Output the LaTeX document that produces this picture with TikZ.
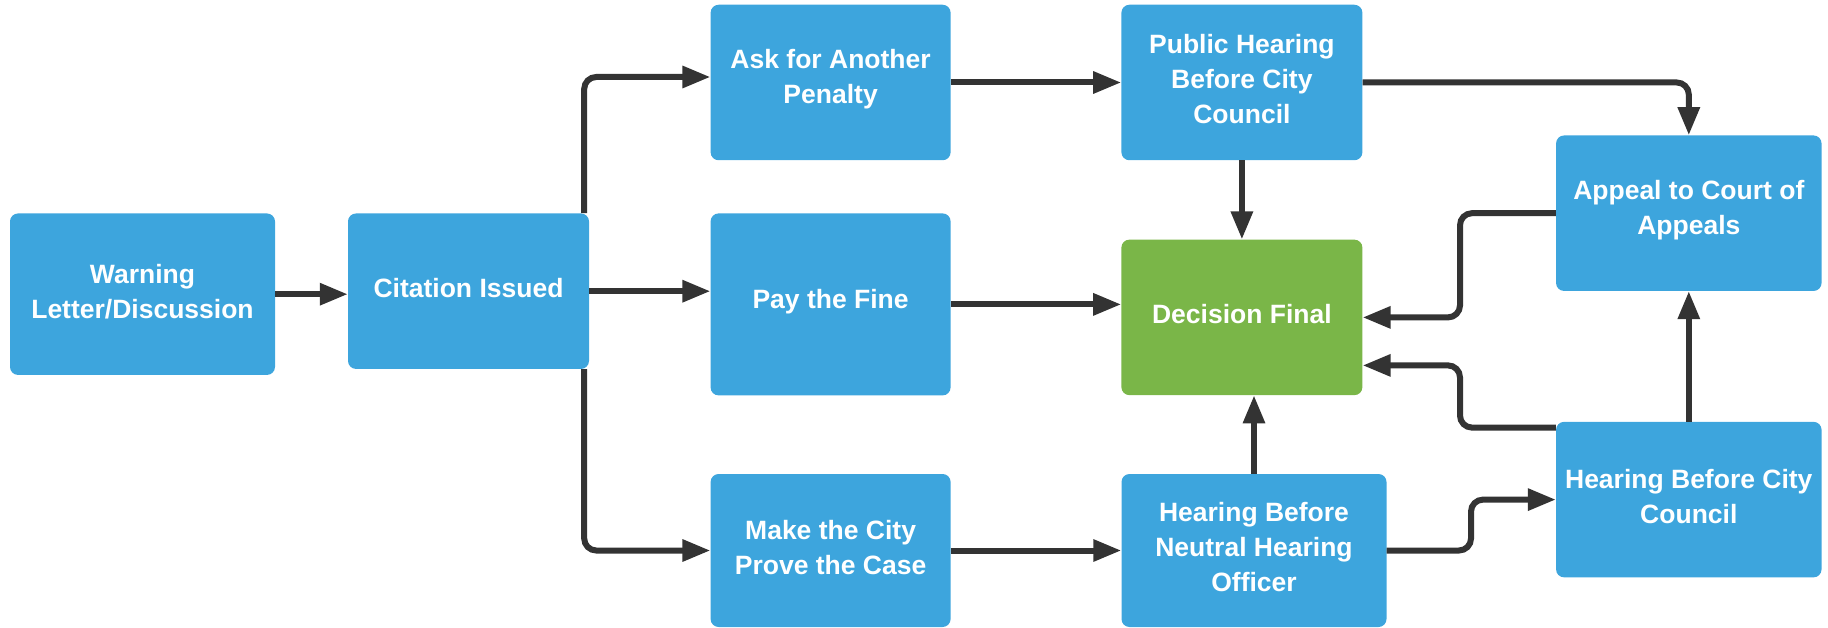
\documentclass[tikz,border=0pt]{standalone}
\usepackage{fontspec}
\setmainfont{Liberation Sans}
\usetikzlibrary{arrows.meta,calc}
\definecolor{boxblue}{HTML}{3DA5DD}
\definecolor{boxgreen}{HTML}{7AB648}
\definecolor{arrowgray}{HTML}{333333}
\tikzset{
  stepbox/.style={fill=boxblue, draw=none, rounded corners=8pt, inner sep=0pt},
  greenbox/.style={stepbox, fill=boxgreen},
  boxtext/.style={text=white, align=center, inner sep=0pt, yshift=3pt,
    font=\bfseries\fontsize{26.5}{35}\selectfont},
  arr/.style={draw=arrowgray, line width=6pt, rounded corners=12pt,
    -{Triangle[length=28pt,width=21pt]}, arrowgray}
}
\begin{document}
\begin{tikzpicture}[x=1pt,y=-1pt]
\useasboundingbox (0,0) rectangle (1828,628);
% boxes: center, width, height
\node[stepbox, minimum width=265pt, minimum height=161.5pt, label={[boxtext]center:{Warning\\Letter/Discussion}}] (warn) at (142.5,294.2) {};
\node[stepbox, minimum width=241pt, minimum height=155.5pt, label={[boxtext]center:{Citation Issued}}] (cit) at (468.5,291.2) {};
\node[stepbox, minimum width=240pt, minimum height=155.5pt, label={[boxtext]center:{Ask for Another\\Penalty}}] (ask) at (830.6,82.5) {};
\node[stepbox, minimum width=240pt, minimum height=182pt, label={[boxtext]center:{Pay the Fine}}] (pay) at (830.6,304.4) {};
\node[stepbox, minimum width=240pt, minimum height=153pt, label={[boxtext]center:{Make the City\\Prove the Case}}] (make) at (830.6,550.5) {};
\node[stepbox, minimum width=241pt, minimum height=155.5pt, label={[boxtext]center:{Public Hearing\\Before City\\Council}}] (pub) at (1241.9,82.5) {};
\node[greenbox, minimum width=241pt, minimum height=155.5pt, label={[boxtext]center:{Decision Final}}] (dec) at (1241.9,317.4) {};
\node[stepbox, minimum width=265pt, minimum height=153pt, label={[boxtext]center:{Hearing Before\\Neutral Hearing\\Officer}}] (neu) at (1254,550.5) {};
\node[stepbox, minimum width=265.5pt, minimum height=155.5pt, label={[boxtext]center:{Appeal to Court of\\Appeals}}] (app) at (1688.8,213.2) {};
\node[stepbox, minimum width=265.5pt, minimum height=155.5pt, label={[boxtext]center:{Hearing Before City\\Council}}] (hcc) at (1688.8,499.6) {};
% connectors
\coordinate (jL) at (1460,0);
\coordinate (jN) at (1471,0);
\draw[arr] (warn.east) -- (warn.east -| cit.west);
\draw[arr] ([xshift=-5pt]cit.north east) |- ([yshift=5.5pt]ask.west);
\draw[arr] (cit.east) -- (cit.east -| pay.west);
\draw[arr] ([xshift=-5pt]cit.south east) |- (make.west);
\draw[arr] (ask.east) -- (pub.west);
\draw[arr] (pay.east) -- (pay.east -| dec.west);
\draw[arr] (make.east) -- (neu.west);
\draw[arr] (pub.south) -- (dec.north);
\draw[arr] (pub.east) -| (app.north);
\draw[arr] (neu.north) -- (neu.north |- dec.south);
\draw[arr] (app.west) -- (app.west -| jL) |- (dec.east);
\draw[arr] ([yshift=72pt]hcc.west) -- ([yshift=72pt]hcc.west -| jL) |- ([yshift=-48pt]dec.east);
\draw[arr] (neu.east) -- (neu.east -| jN) |- (hcc.west);
\draw[arr] (hcc.north) -- (app.south);
\end{tikzpicture}
\end{document}
